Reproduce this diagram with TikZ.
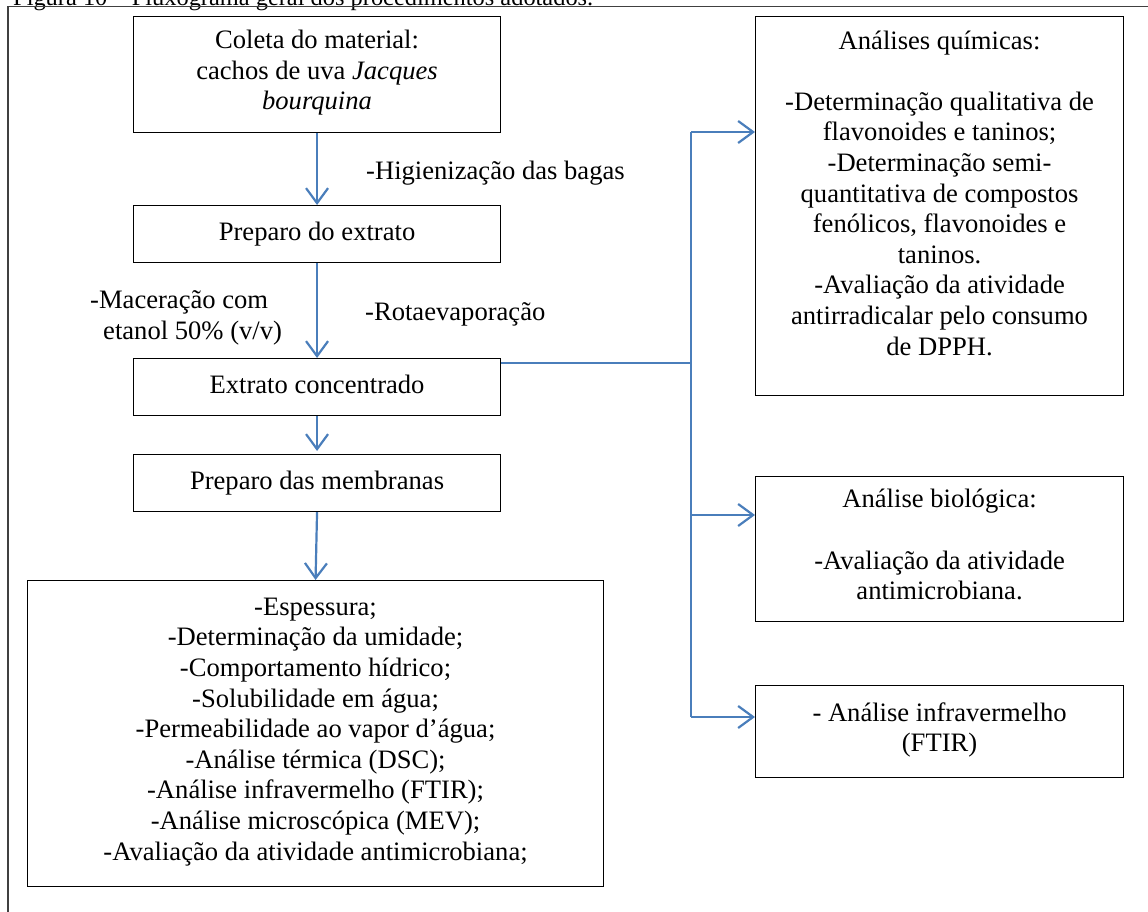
\documentclass[tikz,border=0pt]{standalone}
\usepackage{fontspec}
\setmainfont{Liberation Serif}
\usetikzlibrary{arrows.meta}
\definecolor{arrowblue}{HTML}{4A7EBB}
\definecolor{framegray}{HTML}{404040}
\begin{document}
\begin{tikzpicture}[x=1pt,y=-1pt,
  every node/.style={font=\fontsize{26.6}{30.6}\selectfont, inner sep=0pt, text=black},
  box/.style={draw=black, line width=1.1pt, align=center, anchor=north west,
    execute at begin node=\strut, execute at end node=\strut},
  lbl/.style={align=left, anchor=north west,
    execute at begin node=\strut, execute at end node=\strut},
  conn/.style={draw=arrowblue, line width=2.2pt},
  arr/.style={conn, -{Straight Barb[length=15pt,width=22pt,line width=2.2pt]}},
  frame/.style={draw=framegray, line width=1.4pt}]
\useasboundingbox (0,0) rectangle (1148,912);
\clip (0,0) rectangle (1148,912);
% caption (cut by the page edge)
\node[anchor=base west, font=\fontsize{24.4}{28}\selectfont] (cap) at (13,6) {Figura 10 -- Fluxograma geral dos procedimentos adotados.};
% outer frame
\draw[frame] (8,6.5) rectangle (1175,945);
% left column
\node[box, minimum width=367pt, minimum height=116pt] (b1) at (133,16)
  {Coleta do material:\\ cachos de uva \textit{Jacques}\\ \textit{bourquina}};
\node[box, minimum width=367pt, minimum height=57pt] (b2) at (133,205) {Preparo do extrato};
\node[box, minimum width=367pt, minimum height=57pt] (b3) at (133,358) {Extrato concentrado};
\node[box, minimum width=367pt, minimum height=57pt] (b4) at (133,454) {Preparo das membranas};
\node[box, minimum width=576pt, minimum height=306pt] (b5) at (27,580)
  {-Espessura;\\ -Determinação da umidade;\\ -Comportamento hídrico;\\ -Solubilidade em água;\\
   -Permeabilidade ao vapor d’água;\\ -Análise térmica (DSC);\\ -Análise infravermelho (FTIR);\\
   -Análise microscópica (MEV);\\ -Avaliação da atividade antimicrobiana;};
% right column
\node[box, minimum width=368pt, minimum height=379pt] (chem) at (755,16)
  {Análises químicas:\\ \\ -Determinação qualitativa de\\ flavonoides e taninos;\\ -Determinação semi-\\
   quantitativa de compostos\\ fenólicos, flavonoides e\\ taninos.\\ -Avaliação da atividade\\
   antirradicalar pelo consumo\\ de DPPH.\rule[-26.4pt]{0pt}{0pt}};
\node[box, minimum width=368pt, minimum height=145pt] (bio) at (755,476)
  {Análise biológica:\\ \\ -Avaliação da atividade\\ antimicrobiana.};
\node[box, minimum width=368pt, minimum height=92pt] (ftir) at (755,685)
  {- Análise infravermelho\\ (FTIR)};
% step labels
\node[anchor=base west] (hig) at (366,180) {-Higienização das bagas};
\node[anchor=base west] (rot) at (365,320) {-Rotaevaporação};
\node[lbl] (mac) at (90,290.6) {-Maceração com\\ \hspace*{13pt}etanol 50\% (v/v)};
% vertical flow
\draw[arr] (b1.south) -- (b2.north);
\draw[arr] (b2.south) -- (b3.north);
\draw[arr] (b3.south) -- ([yshift=3pt]b4.north);
\draw[arr] (b4.south) -- (b5.north);
% branch to the analyses
\coordinate (c3) at ([yshift=-5pt]b3.north east);
\coordinate (jt) at (691,132);
\coordinate (jm) at (691,515);
\coordinate (jb) at (691,717);
\draw[conn] (c3) -- (c3 -| jt);
\draw[conn] (jt) -- (jb);
\draw[arr] (jt) -- (jt -| chem.west);
\draw[arr] (jm) -- (jm -| bio.west);
\draw[arr] (jb) -- (jb -| ftir.west);
\end{tikzpicture}
\end{document}
